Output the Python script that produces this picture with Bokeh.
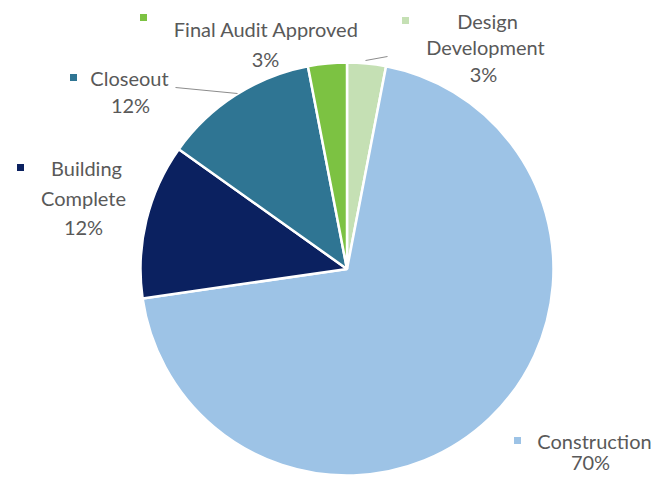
import numpy as np
from bokeh.plotting import figure
from bokeh.models import Range1d
from bokeh.core.properties import value
from bokeh.embed import file_html
from bokeh.resources import INLINE

# Data (clockwise from 12 o'clock)
categories = ["Design Development", "Construction", "Building Complete", "Closeout", "Final Audit Approved"]
counts = [1, 23, 4, 4, 1]
colors = ["#c5e0b4", "#9dc3e6", "#0b2160", "#2f7593", "#7cc242"]

W, H = 658, 475
p = figure(width=W, height=H, output_backend="svg", toolbar_location=None,
           x_range=Range1d(0, W), y_range=Range1d(483 - H, 483),
           min_border=0, tools="")
p.axis.visible = False
p.grid.visible = False
p.outline_line_color = None
p.background_fill_color = "white"

def Y(py):
    return 483 - py

vals = np.array(counts, dtype=float)
frac = vals / vals.sum()
cum = np.concatenate([[0], np.cumsum(frac)])
start = np.pi / 2 - cum[:-1] * 2 * np.pi
end = np.pi / 2 - cum[1:] * 2 * np.pi

cx, cy, r = 346.5, Y(268.5), 206.5
p.wedge(x=cx, y=cy, radius=r, start_angle=end, end_angle=start,
        fill_color=colors, line_color="white", line_width=2.5)

pct = [f"{int(round(f * 100))}%" for f in frac]

font = value("Lato")
tc = "#595959"
fs = "20px"

# label layout: (marker x, marker y, [text lines with (x, y)])
layout = {
    "Design Development": ((405, 20), [("Design", 487, 20), ("Development", 485, 46), (None, 483, 73)]),
    "Construction": ((517, 440), [("Construction", 594, 440), (None, 590, 461)]),
    "Building Complete": ((20, 167), [("Building", 86, 167), ("Complete", 83, 197), (None, 83, 226)]),
    "Closeout": ((73, 77), [("Closeout", 129, 77), (None, 130, 104)]),
    "Final Audit Approved": ((143, 17), [("Final Audit Approved", 266, 28), (None, 265, 58)]),
}

for i, cat in enumerate(categories):
    (mx, my), lines = layout[cat]
    p.scatter([mx], [Y(my)], marker="square", size=7, fill_color=colors[i], line_color=None)
    for txt, tx, ty in lines:
        t = pct[i] if txt is None else txt
        p.text([tx], [Y(ty)], text=[t], text_font=font, text_font_size=fs,
               text_color=tc, text_align="center", text_baseline="middle")

# leader lines
p.line([175, 237], [Y(87), Y(93)], line_color="#8c8c8c", line_width=1)
p.line([365, 387], [Y(60), Y(56)], line_color="#8c8c8c", line_width=1)

open("out.html", "w").write(file_html(p, INLINE))
